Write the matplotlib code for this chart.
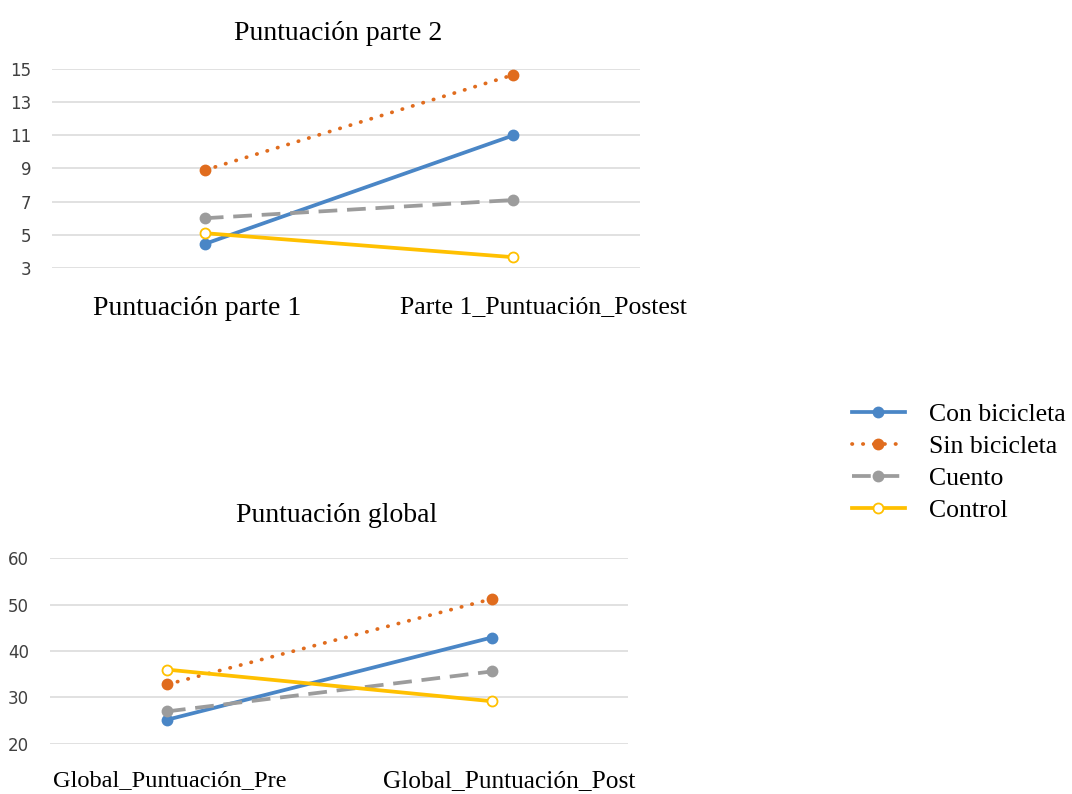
import matplotlib.pyplot as plt
from matplotlib.lines import Line2D

# datos
series = ['Con bicicleta', 'Sin bicicleta', 'Cuento', 'Control']
cats_p2 = ['Puntuación parte 1', 'Parte 1_Puntuación_Postest']
vals_p2 = {
    'Con bicicleta': [4.45, 11.0],
    'Sin bicicleta': [8.9, 14.65],
    'Cuento': [6.0, 7.1],
    'Control': [5.1, 3.65],
}
cats_gl = ['Global_Puntuación_Pre', 'Global_Puntuación_Post']
vals_gl = {
    'Con bicicleta': [25.2, 42.9],
    'Sin bicicleta': [32.8, 51.2],
    'Cuento': [27.0, 35.6],
    'Control': [36.0, 29.2],
}

colors = {'Con bicicleta': '#4A86C6', 'Sin bicicleta': '#E06C1E',
          'Cuento': '#9C9C9C', 'Control': '#FFC000'}
styles = {
    'Con bicicleta': dict(linestyle='-'),
    'Sin bicicleta': dict(linestyle=(0, (0.1, 2.8)), dash_capstyle='round'),
    'Cuento': dict(linestyle=(0, (5, 2.6))),
    'Control': dict(linestyle='-'),
}
LW = 2.7
MS = 7.2

fig = plt.figure(figsize=(10.72, 7.94), dpi=100)


def draw(ax, cats, vals, ylim, yticks, title, xlim, catsizes, catdx, xpad, tpad, tx):
    ax.set_xlim(*xlim)
    ax.set_ylim(*ylim)
    ax.set_yticks(yticks)
    ax.set_xticks([])
    ax.grid(axis='y', color='#D9D9D9', linewidth=1.1)
    ax.set_axisbelow(True)
    for s in ax.spines.values():
        s.set_visible(False)
    for name in series:
        face = 'white' if name == 'Control' else colors[name]
        ax.plot(range(len(cats)), vals[name], color=colors[name], linewidth=LW,
                marker='o', markersize=MS, markerfacecolor=face,
                markeredgecolor=colors[name], markeredgewidth=1.3,
                **styles[name])
    # etiquetas de categoría (algo desplazadas, como en Excel)
    for i, (cat, fs, dx) in enumerate(zip(cats, catsizes, catdx)):
        ax.annotate(cat, xy=(i, 0), xycoords=('data', 'axes fraction'),
                    xytext=(dx, -xpad), textcoords='offset points',
                    ha='center', va='top', fontfamily='Liberation Serif',
                    fontsize=fs, annotation_clip=False)
    ax.tick_params(axis='y', length=0, pad=15, labelsize=12, labelcolor='#404040')
    ax.set_title(title, fontfamily='Liberation Serif', fontsize=20, pad=tpad, x=tx)


ax1 = fig.add_axes([0.0485, 0.6625, 0.5485, 0.2506])
draw(ax1, cats_p2, vals_p2, (3, 15), [3, 5, 7, 9, 11, 13, 15],
     'Puntuación parte 2', (-0.495, 1.41), [20, 18.5], [-5.8, 21.6], 20, 21, 0.486)

ax2 = fig.add_axes([0.0466, 0.063, 0.5394, 0.2342])
draw(ax2, cats_gl, vals_gl, (20, 60), [20, 30, 40, 50, 60],
     'Puntuación global', (-0.36, 1.42), [17.6, 18.3], [2.2, 12.6], 19, 26, 0.495)

handles = []
for name in series:
    face = 'white' if name == 'Control' else colors[name]
    handles.append(Line2D([], [], color=colors[name], linewidth=LW, marker='o',
                          markersize=MS, markerfacecolor=face,
                          markeredgecolor=colors[name], markeredgewidth=1.3,
                          **styles[name]))
leg = fig.legend(handles, series, loc='upper left',
                 bbox_to_anchor=(852 / 1072, 1 - 403 / 794),
                 frameon=False, prop={'family': 'Liberation Serif', 'size': 18.5},
                 handlelength=2.05, handletextpad=0.95, labelspacing=0.35,
                 borderpad=0, borderaxespad=0)

plt.savefig('out.png', dpi=100)
plt.close()
